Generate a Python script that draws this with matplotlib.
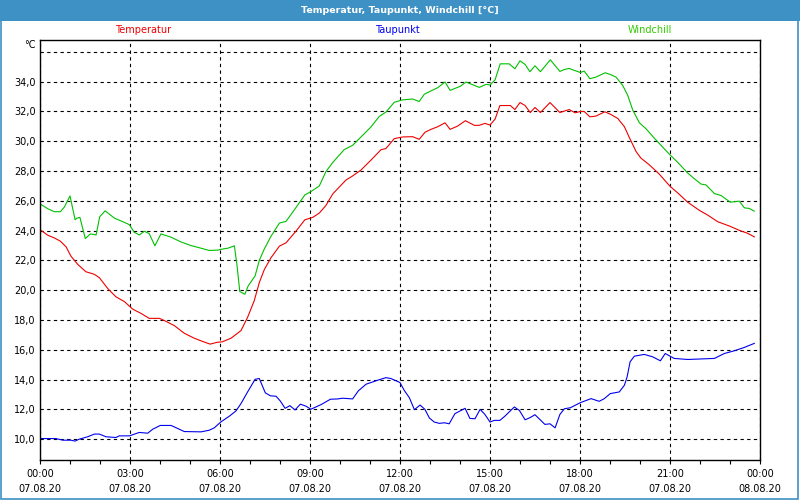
import matplotlib
matplotlib.use("Agg")
import matplotlib.pyplot as plt
from matplotlib.patches import Rectangle

# Temperatur (red) - hours since 00:00, value in °C
temp_h = [0.0, 0.26, 0.48, 0.68, 0.87, 1.03, 1.26, 1.53, 1.81, 1.98, 2.26, 2.53, 2.81, 3.09, 3.37,
          3.64, 3.98, 4.2, 4.48, 4.81, 5.14, 5.42, 5.67, 5.92, 6.07, 6.37, 6.7, 6.92, 7.14, 7.31,
          7.48, 7.7, 7.98, 8.2, 8.53, 8.83, 9.09, 9.31, 9.53, 9.76, 10.2, 10.42, 10.7, 11.03, 11.37,
          11.53, 11.81, 12.09, 12.42, 12.64, 12.83, 13.03, 13.26, 13.5, 13.67, 13.92, 14.18, 14.48,
          14.64, 14.83, 15.0, 15.17, 15.33, 15.68, 15.83, 16.0, 16.17, 16.34, 16.5, 16.68, 17.0,
          17.33, 17.64, 17.84, 18.01, 18.14, 18.33, 18.53, 18.83, 19.03, 19.26, 19.48, 19.64, 19.87,
          20.03, 20.31, 20.64, 21.0, 21.26, 21.59, 21.98, 22.26, 22.59, 22.98, 23.31, 23.59, 23.81]
temp_v = [24.07, 23.69, 23.51, 23.29, 22.91, 22.29, 21.73, 21.24, 21.07, 20.84, 20.11, 19.56, 19.24,
          18.73, 18.44, 18.11, 18.11, 17.91, 17.62, 17.11, 16.78, 16.56, 16.38, 16.51, 16.53, 16.78,
          17.29, 18.18, 19.29, 20.51, 21.4, 22.18, 22.96, 23.18, 23.96, 24.73, 24.89, 25.18, 25.69,
          26.47, 27.4, 27.67, 28.07, 28.73, 29.44, 29.51, 30.18, 30.29, 30.31, 30.13, 30.6, 30.8,
          30.98, 31.24, 30.8, 31.02, 31.38, 31.07, 31.07, 31.2, 31.09, 31.49, 32.4, 32.4, 32.13,
          32.6, 32.4, 31.93, 32.27, 31.93, 32.6, 31.93, 32.13, 31.91, 32.0, 32.0, 31.64, 31.69,
          31.98, 31.8, 31.53, 30.98, 30.27, 29.31, 28.87, 28.42, 27.8, 26.98, 26.53, 25.91, 25.36,
          25.04, 24.6, 24.31, 24.02, 23.82, 23.58]

# Taupunkt (blue)
dew_h = [0.0, 0.53, 0.76, 1.03, 1.17, 1.31, 1.59, 1.81, 1.98, 2.2, 2.53, 2.64, 2.98, 3.31, 3.59,
         3.76, 4.01, 4.37, 4.81, 5.37, 5.64, 5.81, 6.03, 6.31, 6.53, 6.7, 6.92, 7.17, 7.31, 7.51,
         7.68, 7.87, 8.01, 8.17, 8.33, 8.5, 8.68, 8.87, 9.03, 9.37, 9.68, 9.92, 10.09, 10.42, 10.61,
         10.87, 11.03, 11.26, 11.53, 11.7, 12.0, 12.14, 12.31, 12.48, 12.67, 12.83, 12.98, 13.14,
         13.31, 13.48, 13.64, 13.83, 14.0, 14.17, 14.33, 14.5, 14.67, 14.83, 15.0, 15.14, 15.33,
         15.5, 15.81, 15.98, 16.17, 16.33, 16.5, 16.83, 17.0, 17.17, 17.33, 17.48, 17.68, 18.01,
         18.37, 18.64, 18.81, 19.01, 19.31, 19.48, 19.57, 19.67, 19.81, 20.14, 20.42, 20.68, 20.84,
         21.14, 21.59, 22.48, 22.81, 23.14, 23.48, 23.81]
dew_v = [10.04, 10.04, 9.93, 9.93, 9.87, 10.0, 10.16, 10.34, 10.34, 10.16, 10.11, 10.22, 10.22, 10.45,
         10.4, 10.67, 10.92, 10.92, 10.51, 10.49, 10.6, 10.76, 11.16, 11.54, 11.89, 12.39, 13.17,
         14.02, 14.07, 13.11, 12.91, 12.88, 12.56, 12.07, 12.25, 11.96, 12.35, 12.21, 12.01, 12.32,
         12.68, 12.7, 12.75, 12.7, 13.24, 13.69, 13.8, 13.96, 14.13, 14.07, 13.8, 13.28, 12.79,
         11.98, 12.29, 12.0, 11.42, 11.15, 11.06, 11.1, 11.03, 11.71, 11.89, 12.07, 11.39, 11.37,
         12.0, 11.66, 11.15, 11.26, 11.26, 11.55, 12.16, 11.93, 11.3, 11.44, 11.64, 10.99, 11.03,
         10.76, 11.66, 12.04, 12.11, 12.45, 12.72, 12.54, 12.72, 13.06, 13.17, 13.62, 14.18, 15.19,
         15.57, 15.69, 15.53, 15.26, 15.75, 15.42, 15.35, 15.42, 15.75, 15.93, 16.16, 16.43]

# Windchill (green)
wind_h = [0.0, 0.26, 0.48, 0.68, 0.81, 1.0, 1.17, 1.23, 1.33, 1.51, 1.68, 1.87, 1.99, 2.17, 2.48,
          2.76, 2.98, 3.14, 3.31, 3.48, 3.64, 3.83, 4.03, 4.37, 4.7, 5.03, 5.37, 5.64, 5.92, 6.07,
          6.26, 6.48, 6.57, 6.66, 6.83, 6.94, 7.17, 7.31, 7.48, 7.7, 7.98, 8.2, 8.48, 8.83, 9.03,
          9.31, 9.53, 9.76, 10.14, 10.42, 10.7, 11.03, 11.31, 11.53, 11.81, 12.09, 12.42, 12.64,
          12.81, 12.98, 13.26, 13.5, 13.67, 13.87, 14.01, 14.2, 14.42, 14.64, 14.87, 15.0, 15.17,
          15.34, 15.64, 15.83, 16.0, 16.17, 16.33, 16.5, 16.68, 17.01, 17.33, 17.48, 17.64, 17.81,
          18.01, 18.14, 18.33, 18.53, 18.84, 19.03, 19.2, 19.42, 19.59, 19.76, 19.98, 20.2, 20.48,
          20.76, 21.0, 21.26, 21.59, 21.81, 22.03, 22.2, 22.48, 22.7, 23.01, 23.31, 23.48, 23.64, 23.81]
wind_v = [25.8, 25.47, 25.27, 25.27, 25.58, 26.33, 24.73, 24.84, 24.89, 23.47, 23.78, 23.71, 24.93,
          25.33, 24.84, 24.6, 24.4, 23.89, 23.71, 23.96, 23.8, 22.98, 23.78, 23.56, 23.24, 23.0,
          22.82, 22.67, 22.69, 22.76, 22.82, 22.98, 21.62, 19.91, 19.73, 20.29, 20.96, 22.0, 22.78,
          23.62, 24.51, 24.62, 25.4, 26.4, 26.62, 27.0, 27.96, 28.58, 29.44, 29.73, 30.29, 30.96,
          31.67, 31.96, 32.62, 32.78, 32.84, 32.67, 33.16, 33.33, 33.6, 33.98, 33.42, 33.58, 33.69,
          33.98, 33.8, 33.62, 33.82, 33.78, 34.13, 35.2, 35.2, 34.87, 35.4, 35.16, 34.67, 35.07,
          34.67, 35.47, 34.69, 34.82, 34.89, 34.76, 34.62, 34.71, 34.2, 34.31, 34.6, 34.47, 34.31,
          33.76, 33.09, 32.09, 31.24, 30.84, 30.2, 29.6, 29.09, 28.58, 27.87, 27.49, 27.13, 27.07,
          26.49, 26.36, 25.91, 25.98, 25.53, 25.49, 25.31]

x_ticks = [0, 3, 6, 9, 12, 15, 18, 21, 24]
x_labels = ["00:00\n07.08.20", "03:00\n07.08.20", "06:00\n07.08.20", "09:00\n07.08.20",
            "12:00\n07.08.20", "15:00\n07.08.20", "18:00\n07.08.20", "21:00\n07.08.20",
            "00:00\n08.08.20"]
y_ticks = [10, 12, 14, 16, 18, 20, 22, 24, 26, 28, 30, 32, 34]
y_labels = ["10,0", "12,0", "14,0", "16,0", "18,0", "20,0", "22,0", "24,0", "26,0", "28,0",
            "30,0", "32,0", "34,0"]

fig = plt.figure(figsize=(8, 5), dpi=100)
fig.patch.set_facecolor("white")

# title bar + window frame
fig.patches.append(Rectangle((0, 0.958), 1, 0.042, transform=fig.transFigure,
                             facecolor="#3d91c4", edgecolor="none"))
fig.patches.append(Rectangle((0.001, 0.002), 0.997, 0.997, transform=fig.transFigure,
                             facecolor="none", edgecolor="#3d91c4", linewidth=1.2))
fig.text(0.5, 0.979, "Temperatur, Taupunkt, Windchill [°C]", color="white",
         fontsize=6.8, fontweight="bold", ha="center", va="center")

ax = fig.add_axes([0.05, 0.08, 0.9, 0.84])

ax.plot(temp_h, temp_v, color="#ee0000", linewidth=0.8)
ax.plot(wind_h, wind_v, color="#00c000", linewidth=0.8)
ax.plot(dew_h, dew_v, color="#0000ee", linewidth=0.8)

ax.set_xlim(0, 24)
ax.set_ylim(8.6, 36.8)

ax.set_xticks(x_ticks)
ax.set_xticklabels(x_labels, fontsize=7, linespacing=1.6)
ax.set_xticks(range(25), minor=True)
ax.tick_params(axis="x", which="both", direction="out", length=3, width=0.8, pad=3.5)

ax.set_yticks(y_ticks + [36])
ax.set_yticklabels(y_labels + [""], fontsize=7)
ax.tick_params(axis="y", length=0, pad=3)

ax.grid(True, which="major", color="black", linestyle=(0, (3, 3)), linewidth=0.8)
for s in ax.spines.values():
    s.set_linewidth(1.0)

# legend-like labels above the plot
fig.text(143 / 800, 0.94, "Temperatur", color="#ee0000", fontsize=7, ha="center", va="center")
fig.text(397 / 800, 0.94, "Taupunkt", color="#0000ee", fontsize=7, ha="center", va="center")
fig.text(650 / 800, 0.94, "Windchill", color="#33cc00", fontsize=7, ha="center", va="center")
fig.text(0.045, 0.91, "°C", fontsize=7, ha="right", va="center")

fig.savefig("out.png", dpi=100)
